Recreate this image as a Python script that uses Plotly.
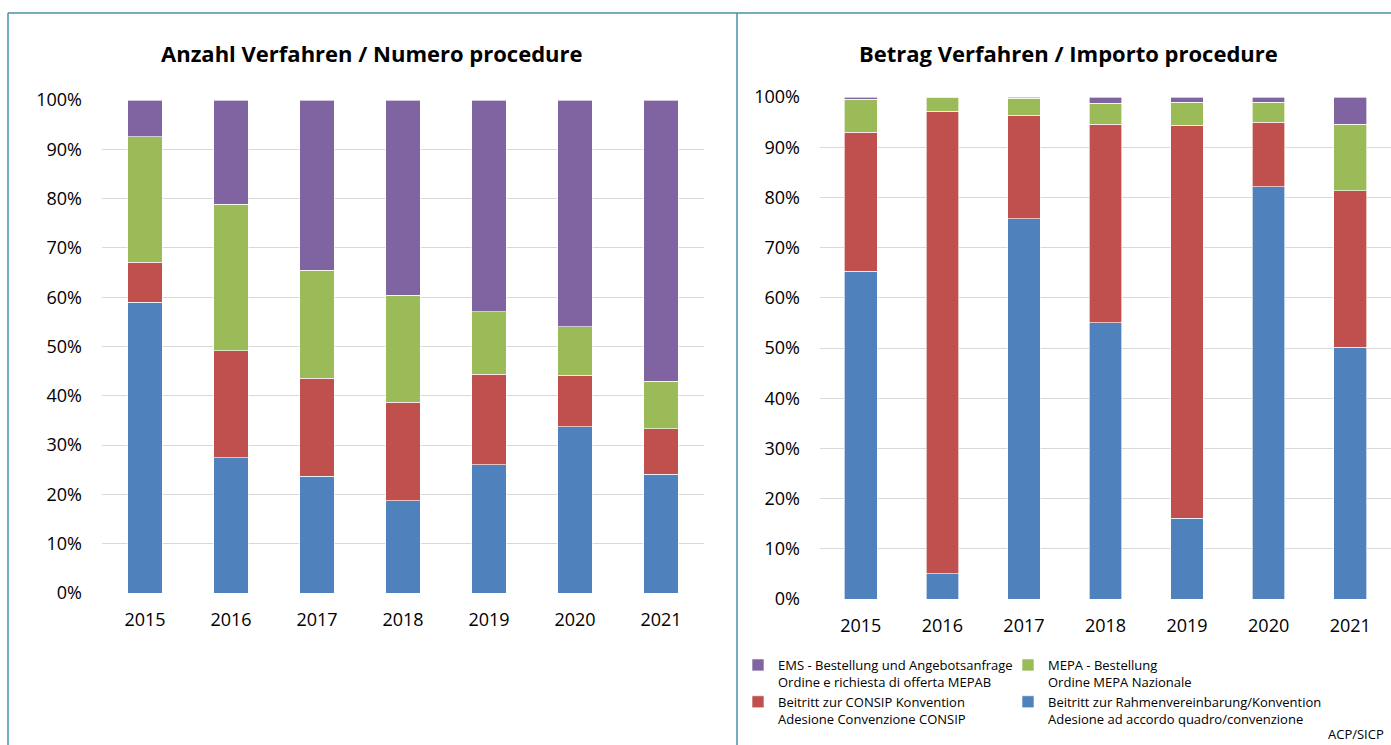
import plotly.graph_objects as go

years = ["2015", "2016", "2017", "2018", "2019", "2020", "2021"]
pct_ticks = [0, 10, 20, 30, 40, 50, 60, 70, 80, 90, 100]
pct_labels = ["0%", "10%", "20%", "30%", "40%", "50%", "60%", "70%", "80%", "90%", "100%"]

# Anzahl Verfahren / Numero procedure (share in %)
count_rahmen = [59.0, 27.4, 23.7, 18.7, 26.0, 33.7, 24.1]
count_consip = [8.1, 21.7, 19.9, 20.0, 18.4, 10.5, 9.2]
count_mepa = [25.4, 29.8, 21.9, 21.7, 12.6, 9.8, 9.7]
count_ems = [7.5, 21.1, 34.5, 39.6, 43.0, 46.0, 57.0]

# Betrag Verfahren / Importo procedure (share in %)
amount_rahmen = [65.3, 5.0, 75.7, 55.0, 16.1, 82.1, 50.2]
amount_consip = [27.7, 92.2, 20.7, 39.6, 78.3, 12.9, 31.1]
amount_mepa = [6.6, 2.7, 3.4, 4.2, 4.6, 4.0, 13.3]
amount_ems = [0.4, 0.1, 0.2, 1.2, 1.0, 1.0, 5.4]

series_names = [
    "Beitritt zur Rahmenvereinbarung/Konvention<br>Adesione ad accordo quadro/convenzione",
    "Beitritt zur CONSIP Konvention<br>Adesione Convenzione CONSIP",
    "MEPA - Bestellung<br>Ordine MEPA Nazionale",
    "EMS - Bestellung und Angebotsanfrage<br>Ordine e richiesta di offerta MEPAB",
]
colors = ["#4F81BD", "#C0504D", "#9BBB59", "#8064A2"]
# which legend column each series goes to (right column / left column)
legend_ids = ["legend2", "legend", "legend2", "legend"]

W, H = 1391, 745
FONT = "Open Sans"


def px_x(v):
    return v / W


def px_y(v):
    return 1 - v / H


fig = go.Figure()

count_data = [count_rahmen, count_consip, count_mepa, count_ems]
amount_data = [amount_rahmen, amount_consip, amount_mepa, amount_ems]

for name, color, vals in zip(series_names, colors, count_data):
    fig.add_trace(go.Bar(
        x=years, y=vals, name=name, marker_color=color,
        marker_line=dict(color="rgba(255,255,255,0.8)", width=0.8),
        xaxis="x", yaxis="y", showlegend=False, legendgroup=name,
    ))

for name, color, vals, leg in zip(series_names, colors, amount_data, legend_ids):
    fig.add_trace(go.Bar(
        x=years, y=vals, name=name, marker_color=color,
        marker_line=dict(color="rgba(255,255,255,0.8)", width=0.8),
        xaxis="x2", yaxis="y2", showlegend=True, legendgroup=name, legend=leg,
    ))

axis_font = dict(family=FONT, size=18, color="#000000")

yaxis_common = dict(
    range=[0, 100], tickvals=pct_ticks, ticktext=pct_labels,
    showgrid=True, gridcolor="#D9D9D9", gridwidth=1.2,
    zeroline=False, showline=False, tickfont=axis_font, ticklabelstandoff=19,
    fixedrange=True,
)
xaxis_common = dict(
    showgrid=False, zeroline=False, showline=False, tickfont=axis_font,
    ticklabelstandoff=14, fixedrange=True,
)

legend_common = dict(
    orientation="v", traceorder="reversed", xanchor="left", yanchor="top",
    font=dict(family=FONT, size=13, color="#000000"), valign="top",
    itemwidth=30, tracegroupgap=6, bgcolor="rgba(0,0,0,0)",
)

fig.update_layout(
    width=W, height=H,
    margin=dict(l=0, r=0, t=0, b=0, autoexpand=False),
    paper_bgcolor="white", plot_bgcolor="white",
    barmode="stack", bargap=0.6,
    font=dict(family=FONT, color="#000000"),
    xaxis=dict(domain=[px_x(102), px_x(704)], anchor="y", **xaxis_common),
    yaxis=dict(domain=[px_y(593), px_y(100)], anchor="x", **yaxis_common),
    xaxis2=dict(domain=[px_x(820), 1.0], anchor="y2", **xaxis_common),
    yaxis2=dict(domain=[px_y(599), px_y(97)], anchor="x2", **yaxis_common),
    showlegend=True,
    legend=dict(x=px_x(738), y=px_y(650), **legend_common),
    legend2=dict(x=px_x(1008), y=px_y(650), **legend_common),
    annotations=[
        dict(text="<b>Anzahl Verfahren / Numero procedure</b>", x=px_x(372), y=px_y(53),
             xref="paper", yref="paper", showarrow=False, xanchor="center", yanchor="middle",
             font=dict(family=FONT, size=22, color="#000000")),
        dict(text="<b>Betrag Verfahren / Importo procedure</b>", x=px_x(1068), y=px_y(53),
             xref="paper", yref="paper", showarrow=False, xanchor="center", yanchor="middle",
             font=dict(family=FONT, size=22, color="#000000")),
        dict(text="ACP/SICP", x=px_x(1386), y=px_y(734),
             xref="paper", yref="paper", showarrow=False, xanchor="right", yanchor="middle",
             font=dict(family=FONT, size=13, color="#000000")),
    ],
    shapes=[
        dict(type="line", xref="paper", yref="paper", x0=px_x(8), x1=1.0, y0=px_y(13), y1=px_y(13),
             line=dict(color="#4A90A8", width=1.5)),
        dict(type="line", xref="paper", yref="paper", x0=px_x(8), x1=px_x(8), y0=px_y(13), y1=0,
             line=dict(color="#4A90A8", width=1.5)),
        dict(type="line", xref="paper", yref="paper", x0=px_x(737), x1=px_x(737), y0=px_y(13), y1=0,
             line=dict(color="#4A90A8", width=1.5)),
    ],
)

fig.write_html("out.html", config={"displayModeBar": False},
               post_script="document.body.style.margin='0';")
